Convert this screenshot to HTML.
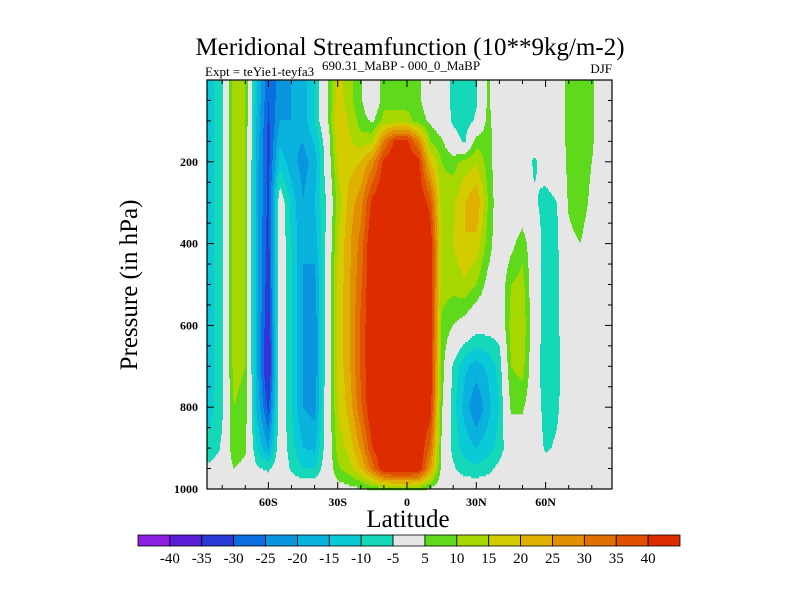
<!DOCTYPE html>
<html><head><meta charset="utf-8">
<style>
body{margin:0;background:#fff;}
svg{display:block;font-family:"Liberation Serif",serif;}
</style></head>
<body>
<svg id="chart" width="800" height="600" viewBox="0 0 800 600" xmlns="http://www.w3.org/2000/svg">
<text x="410" y="55" font-size="25" text-anchor="middle">Meridional Streamfunction (10**9kg/m-2)</text>
<text x="205" y="76" font-size="13">Expt = teYie1-teyfa3</text>
<text x="322" y="70" font-size="13">690.31_MaBP - 000_0_MaBP</text>
<text x="612" y="73" font-size="13" text-anchor="end">DJF</text>
<text transform="translate(137,285) rotate(-90)" font-size="25" text-anchor="middle">Pressure (in hPa)</text>
<text x="408" y="527" font-size="25" text-anchor="middle">Latitude</text>
<g id="field"></g>
<g id="axes"></g>
<g id="cbar"></g>
</svg>
<script>
const lats = [-90,-85,-80,-75,-70,-65,-60,-55,-50,-45,-40,-35,-30,-25,-20,-15,-10,-5,0,5,10,15,20,25,30,35,40,45,50,55,60,65,70,75,80,85,90];
const pressures = [0,50,100,150,200,300,400,500,600,700,800,900,950,1000];
const psiRows = [
/*0*/   [-12,-12,-6,12,10,-15,-30,-22,-20,-18,-10,2,18,12,6,-2,8,8,8,6,1,0,-7,-8,-6,6,0,0,0,0,0,0,7,10,6,0,0],
/*50*/  [-12,-12,-6,12,10,-15,-30,-22,-20,-18,-10,2,18,12,6,-2,8,8,8,6,1,0,-7,-8,-6,6,0,0,0,0,0,0,7,10,6,0,0],
/*100*/ [-12,-12,-6,12,10,-16,-31,-20,-20,-18,-10,2,20,14,8,4,12,12,12,8,4,0,-6,-8,-4,7,0,0,0,0,-1,0,7,10,6,0,0],
/*150*/ [-12,-12,-6,12,10,-17,-32,-16,-19,-20,-14,-2,18,16,12,14,30,42,42,30,10,6,-2,-6,8,8,0,0,0,-2,-1,0,7,10,6,0,0],
/*200*/ [-12,-12,-6,12,10,-18,-32,-12,-18,-22,-18,-2,16,18,20,28,42,45,45,42,20,10,8,12,14,8,0,-1,0,-6,-2,-1,7,10,5,0,0],
/*300*/ [-12,-12,-6,12,10,-18,-32,0,-12,-20,-15,-5,12,22,28,42,46,46,46,46,38,12,14,20,25,10,0,0,0,-4,-7,-5,6,9,3,0,0],
/*400*/ [-12,-12,-6,12,10,-18,-33,0,-10,-20,-18,-4,15,24,32,46,46,46,46,46,45,14,15,20,18,8,0,3,8,0,-8,-6,3,5,0,0,0],
/*500*/ [-12,-12,-6,12,10,-18,-34,0,-10,-20,-22,-3,16,24,34,46,46,46,46,46,46,12,12,14,10,3,0,10,12,0,-8,-6,0,0,0,0,0],
/*600*/ [-12,-12,-6,12,10,-18,-36,0,-10,-20,-24,-2,16,24,36,46,46,46,46,46,46,9,5,2,-2,-2,-2,12,14,0,-8,-6,0,0,0,0,0],
/*700*/ [-12,-12,-6,12,10,-18,-38,0,-10,-20,-24,-2,16,24,36,46,46,46,46,46,46,8,-6,-14,-17,-14,-8,10,12,0,-10,-7,0,0,0,0,0],
/*800*/ [-11,-11,-6,10,8,-16,-32,0,-10,-20,-22,-2,15,22,34,46,46,46,46,46,44,6,-8,-17,-25,-17,-10,6,6,0,-8,-6,0,0,0,0,0],
/*900*/ [-9,-9,-4,9,6,-10,-20,0,-8,-15,-16,-2,12,17,26,40,46,46,46,46,34,4,-7,-12,-15,-12,-8,0,0,0,-6,-4,0,0,0,0,0],
/*950*/ [-3,-3,-1,5,3,-4,-6,0,-6,-10,-10,-1,9,13,20,32,46,48,48,46,26,3,-4,-8,-9,-7,-3,0,0,0,-2,0,0,0,0,0,0],
/*1000*/[0,0,0,0,0,0,0,0,0,0,0,0,2,3,4,6,8,9,9,8,4,0,0,0,0,0,0,0,0,0,0,0,0,0,0,0,0]
];
const levels = [-40,-35,-30,-25,-20,-15,-10,-5,5,10,15,20,25,30,35,40];
const levelLabels = ["-40","-35","-30","-25","-20","-15","-10","-5","5","10","15","20","25","30","35","40"];
const colors = ["#8c1ee0","#5a1ed8","#2a3ad6","#0a6ee0","#0a96de","#0ab2de","#0acad8","#14d8b8","#e6e6e6","#5fd91c","#a6d800","#d2cc00","#e0b000","#e09000","#e07000","#e05000","#dc2c00"];

const NS="http://www.w3.org/2000/svg";
const L=207,R=612,T=80,B=489;
const xOf = lat => 407 + lat*2.31;
const latOf = x => (x-407)/2.31;
const yOf = p => T + p*(B-T)/1000;
const pOf = y => (y-T)*1000/(B-T);

function value(lat,p){
  let i=0; while(i<lats.length-2 && lats[i+1]<lat) i++;
  let j=0; while(j<pressures.length-2 && pressures[j+1]<p) j++;
  const tx=Math.min(1,Math.max(0,(lat-lats[i])/(lats[i+1]-lats[i])));
  const ty=Math.min(1,Math.max(0,(p-pressures[j])/(pressures[j+1]-pressures[j])));
  const a=psiRows[j][i],b=psiRows[j][i+1],c=psiRows[j+1][i],d=psiRows[j+1][i+1];
  return (a*(1-tx)+b*tx)*(1-ty)+(c*(1-tx)+d*tx)*ty;
}
function levelIndex(v){let k=0;while(k<levels.length && v>=levels[k])k++;return k;}

const field=document.getElementById('field');
const bg=document.createElementNS(NS,'rect');
bg.setAttribute('x',L);bg.setAttribute('y',T);bg.setAttribute('width',R-L);bg.setAttribute('height',B-T);bg.setAttribute('fill','#e6e6e6');


field.appendChild(bg);
const step=2;
for(let y=T;y<B;y+=step){
  const p=pOf(y+step/2);
  let runStart=L, runK=levelIndex(value(latOf(L+0.5),p));
  for(let x=L+1;x<=R;x++){
    const k = x<R ? levelIndex(value(latOf(x+0.5),p)) : -1;
    if(k!==runK){
      if(runK!==8){
        const r=document.createElementNS(NS,'rect');
        r.setAttribute('x',runStart);r.setAttribute('y',y);r.setAttribute('width',x-runStart);r.setAttribute('height',step+0.3);
        r.setAttribute('fill',colors[runK]);
        
        
        field.appendChild(r);
      }
      runStart=x;runK=k;
    }
  }
}

const axes=document.getElementById('axes');
function line(x1,y1,x2,y2,name,w){
  const l=document.createElementNS(NS,'line');
  l.setAttribute('x1',x1);l.setAttribute('y1',y1);l.setAttribute('x2',x2);l.setAttribute('y2',y2);
  l.setAttribute('stroke','#000');l.setAttribute('stroke-width',w||1);
  
  
  axes.appendChild(l);
}
function text(x,y,s,anchor,size,name,g,weight){
  const t=document.createElementNS(NS,'text');
  t.setAttribute('x',x);t.setAttribute('y',y);t.setAttribute('text-anchor',anchor);t.setAttribute('font-size',size);
  if(weight)t.setAttribute('font-weight',weight);
  t.textContent=s;
  
  
  (g||axes).appendChild(t);
}
const frame=document.createElementNS(NS,'rect');
frame.setAttribute('x',L);frame.setAttribute('y',T);frame.setAttribute('width',R-L);frame.setAttribute('height',B-T);
frame.setAttribute('fill','none');frame.setAttribute('stroke','#000');frame.setAttribute('stroke-width','1.2');


axes.appendChild(frame);
for(let p=50;p<1000;p+=50){
  const y=yOf(p), major=p%200===0, len=major?7:4;
  line(L,y,L+len,y,'y-tick');line(R,y,R-len,y,'y-tick');
}
const yTicks=[200,400,600,800,1000];
yTicks.forEach(p=>text(L-9,yOf(p)+4,String(p),'end',12,'y-tick-label',null,'bold'));
for(let lat=-80;lat<=80;lat+=10){
  const x=xOf(lat), major=lat%30===0, len=major?7:4;
  line(x,B,x,B-len,'x-tick');line(x,T,x,T+len,'x-tick');
}
const xTicks=[-60,-30,0,30,60];
const xTickLabels=["60S","30S","0","30N","60N"];
xTicks.forEach((lat,i)=>text(xOf(lat),B+17,xTickLabels[i],'middle',12,'x-tick-label',null,'bold'));

const cb=document.getElementById('cbar');
const cx0=138,cx1=680,cy=535,ch=11,bw=(cx1-cx0)/colors.length;
colors.forEach((c,i)=>{
  const r=document.createElementNS(NS,'rect');
  r.setAttribute('x',cx0+i*bw);r.setAttribute('y',cy);r.setAttribute('width',bw);r.setAttribute('height',ch);
  r.setAttribute('fill',c);r.setAttribute('stroke','#000');r.setAttribute('stroke-width','0.8');
  
  
  cb.appendChild(r);
});
levelLabels.forEach((s,i)=>text(cx0+(i+1)*bw,563,s,'middle',15,'colorbar-label',cb));
</script>
</body></html>
